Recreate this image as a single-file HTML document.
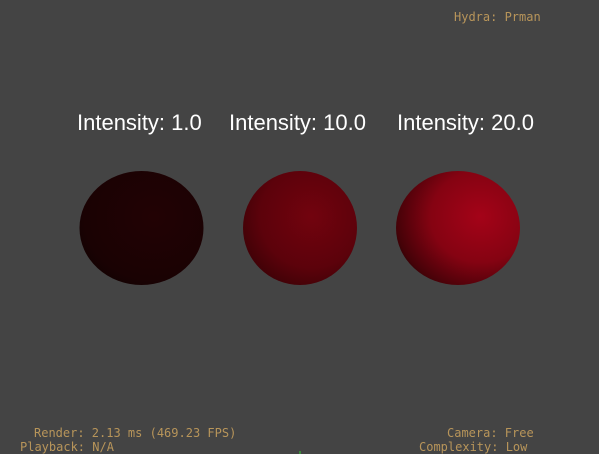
<!DOCTYPE html>
<html><head><meta charset="utf-8"><style>
body{margin:0;width:599px;height:454px;background:#444444;overflow:hidden;position:relative;font-family:"Liberation Sans",sans-serif}
.t{position:absolute;color:#fff;font-size:22px;top:110px;white-space:nowrap}
.h{position:absolute;color:#b8955a;font-family:"DejaVu Sans Mono","Liberation Mono",monospace;font-size:12px;white-space:nowrap}
</style></head><body>
<div class="h" style="left:454px;top:10px">Hydra: Prman</div>
<div class="t" style="left:77px">Intensity: 1.0</div>
<div class="t" style="left:229px">Intensity: 10.0</div>
<div class="t" style="left:397px">Intensity: 20.0</div>
<svg width="599" height="454" style="position:absolute;left:0;top:0">
<defs>
<radialGradient id="g1" cx="0.6" cy="0.4" r="0.7"><stop offset="0" stop-color="#220204"/><stop offset="0.8" stop-color="#1a0203"/><stop offset="1" stop-color="#110102"/></radialGradient>
<radialGradient id="g2" cx="0.6" cy="0.4" r="0.75"><stop offset="0" stop-color="#72030e"/><stop offset="0.6" stop-color="#5c020b"/><stop offset="1" stop-color="#330105"/></radialGradient>
<radialGradient id="g3" cx="0.68" cy="0.4" r="0.8"><stop offset="0" stop-color="#a40318"/><stop offset="0.5" stop-color="#850312"/><stop offset="0.85" stop-color="#450208"/><stop offset="1" stop-color="#120001"/></radialGradient>
</defs>
<ellipse cx="141.5" cy="228" rx="62" ry="57" fill="url(#g1)"/>
<ellipse cx="300" cy="228" rx="57" ry="57" fill="url(#g2)"/>
<ellipse cx="458" cy="228" rx="62" ry="57" fill="url(#g3)"/>
<line x1="300" y1="451" x2="300" y2="454" stroke="#3c3"/>
</svg>
<div class="h" style="left:34px;top:426px">Render: 2.13 ms (469.23 FPS)</div>
<div class="h" style="left:20px;top:440px">Playback: N/A</div>
<div class="h" style="left:447px;top:426px">Camera: Free</div>
<div class="h" style="left:419px;top:440px">Complexity: Low</div>
</body></html>
